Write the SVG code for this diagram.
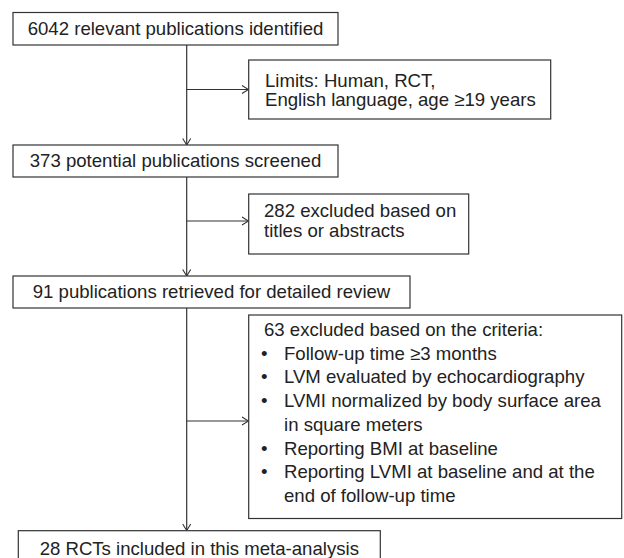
<svg xmlns="http://www.w3.org/2000/svg" width="624" height="558" viewBox="0 0 624 558">
<style>
.box{fill:#fff;stroke:#333;stroke-width:1.2}
.t{font-family:"Liberation Sans",Arial,sans-serif;font-size:18.6px;fill:#222}
.c{text-anchor:middle}
.ln{fill:none;stroke:#333;stroke-width:1.2}
</style>
<defs>
<marker id="ah" viewBox="0 0 8 10" refX="7.5" refY="5" markerWidth="8" markerHeight="10" markerUnits="userSpaceOnUse" orient="auto">
<path d="M1,1 L7.5,5 L1,9" fill="none" stroke="#333" stroke-width="1.1"/>
</marker>
</defs>
<rect width="624" height="558" fill="#fff"/>
<g id="connectors">
<line class="ln" x1="186.7" y1="45" x2="186.7" y2="145" marker-end="url(#ah)"/>
<line class="ln" x1="186.7" y1="89.5" x2="248.5" y2="89.5" marker-end="url(#ah)"/>
<line class="ln" x1="186.7" y1="177" x2="186.7" y2="276" marker-end="url(#ah)"/>
<line class="ln" x1="186.7" y1="221" x2="248.5" y2="221" marker-end="url(#ah)"/>
<line class="ln" x1="186.7" y1="308" x2="186.7" y2="530.5" marker-end="url(#ah)"/>
<line class="ln" x1="186.7" y1="421" x2="248.5" y2="421" marker-end="url(#ah)"/>
</g>
<g id="n1">
<rect class="box" x="13" y="12.5" width="325" height="32.5"/>
<text class="t c" x="175.5" y="35">6042 relevant publications identified</text>
</g>
<g id="n2">
<rect class="box" x="248.7" y="60" width="302" height="59"/>
<text class="t" x="265" y="87">Limits: Human, RCT,</text>
<text class="t" x="265" y="106">English language, age ≥19 years</text>
</g>
<g id="n3">
<rect class="box" x="13" y="145" width="325" height="32"/>
<text class="t c" x="175.5" y="167">373 potential publications screened</text>
</g>
<g id="n4">
<rect class="box" x="248.7" y="194" width="220" height="60"/>
<text class="t" x="264" y="217">282 excluded based on</text>
<text class="t" x="264" y="237">titles or abstracts</text>
</g>
<g id="n5">
<rect class="box" x="13" y="276" width="397" height="32"/>
<text class="t c" x="211.5" y="298">91 publications retrieved for detailed review</text>
</g>
<g id="n6">
<rect class="box" x="248.7" y="315" width="373" height="203.5"/>
<text class="t" x="264" y="336">63 excluded based on the criteria:</text>
<text class="t" x="261" y="359.7">•</text>
<text class="t" x="284" y="359.7">Follow-up time ≥3 months</text>
<text class="t" x="261" y="383.4">•</text>
<text class="t" x="284" y="383.4">LVM evaluated by echocardiography</text>
<text class="t" x="261" y="407.1">•</text>
<text class="t" x="284" y="407.1">LVMI normalized by body surface area</text>
<text class="t" x="284" y="430.8">in square meters</text>
<text class="t" x="261" y="454.5">•</text>
<text class="t" x="284" y="454.5">Reporting BMI at baseline</text>
<text class="t" x="261" y="478.2">•</text>
<text class="t" x="284" y="478.2">Reporting LVMI at baseline and at the</text>
<text class="t" x="284" y="501.9">end of follow-up time</text>
</g>
<g id="n7">
<rect class="box" x="18.3" y="530.7" width="362" height="32"/>
<text class="t c" x="199.3" y="554.5">28 RCTs included in this meta-analysis</text>
</g>
</svg>
